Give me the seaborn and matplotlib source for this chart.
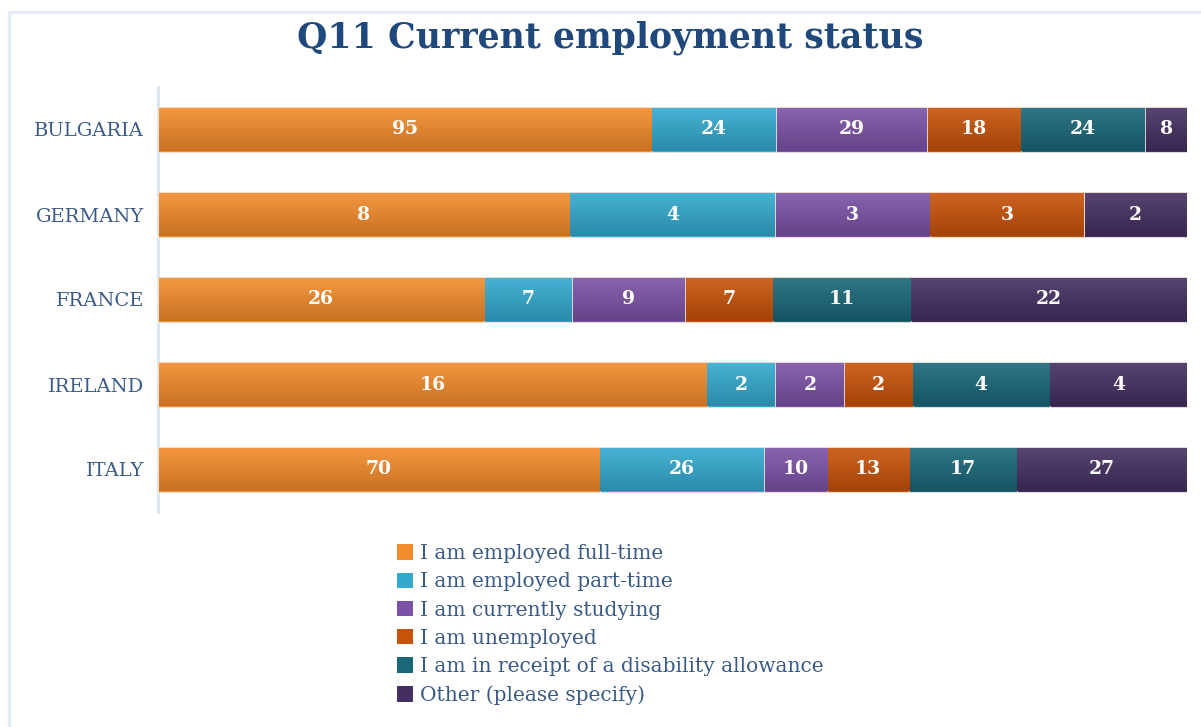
import numpy as np
import pandas as pd
import matplotlib
matplotlib.use("Agg")
import matplotlib.pyplot as plt
from matplotlib.colors import LinearSegmentedColormap, to_rgb
from matplotlib.lines import Line2D
from matplotlib.patches import Patch
import seaborn as sns

# Survey counts per country and answer
countries = ["BULGARIA", "GERMANY", "FRANCE", "IRELAND", "ITALY"]
statuses = [
    "I am employed full-time",
    "I am employed part-time",
    "I am currently studying",
    "I am unemployed",
    "I am in receipt of a disability allowance",
    "Other (please specify)",
]
full_time = [95, 8, 26, 16, 70]
part_time = [24, 4, 7, 2, 26]
studying = [29, 3, 9, 2, 10]
unemployed = [18, 3, 7, 2, 13]
disability = [24, 0, 11, 4, 17]
other = [8, 2, 22, 4, 27]

colors = ["#F38B2A", "#33A9CF", "#7B52A6", "#C85209", "#196779", "#442F61"]
title_color = "#1F497D"
text_color = "#3A5A86"

sns.set_theme(style="white")
plt.rcParams["font.family"] = ["DejaVu Serif"]

counts = pd.DataFrame(
    dict(zip(statuses, [full_time, part_time, studying, unemployed, disability, other])),
    index=countries,
)
shares = counts.div(counts.sum(axis=1), axis=0) * 100
cum = shares.cumsum(axis=1)

fig = plt.figure(figsize=(12.01, 7.27), dpi=100)
ax = fig.add_axes([158 / 1201, 1 - 512 / 727, (1187 - 158) / 1201, (512 - 87) / 727])

bar_h = 0.52
# Stacked bars: draw cumulative totals from the outermost segment inward
for status, col in reversed(list(zip(statuses, colors))):
    df = pd.DataFrame({"country": countries, "value": cum[status].values})
    sns.barplot(data=df, y="country", x="value", color=col, width=bar_h,
                orient="h", ax=ax, saturation=1, edgecolor="#F4E6DA",
                linewidth=0.6, zorder=2)

# Vertical shading on each segment (lighter on top, darker at bottom)
grad = np.linspace(0, 1, 64).reshape(-1, 1)
for j, (status, col) in enumerate(zip(statuses, colors)):
    base = np.array(to_rgb(col))
    light = np.clip(base + (1 - base) * 0.10, 0, 1)
    dark = base * 0.82
    cmap = LinearSegmentedColormap.from_list(f"g{j}", [light, dark])
    for i, c in enumerate(countries):
        x1 = cum[status].iloc[i]
        x0 = x1 - shares[status].iloc[i]
        if shares[status].iloc[i] <= 0:
            continue
        ax.imshow(grad, cmap=cmap, aspect="auto", origin="upper",
                  extent=[x0 + 0.05, x1 - 0.05, i + bar_h / 2 - 0.01, i - bar_h / 2 + 0.01],
                  zorder=3, interpolation="bicubic")
        val = counts[status].iloc[i]
        ax.text((x0 + x1) / 2, i, f"{val}", ha="center", va="center",
                color="white", fontsize=13.5, fontweight="bold", zorder=4)

ax.set_xlim(0, 100)
ax.set_ylim(len(countries) - 0.5, -0.5)
ax.set_xlabel("")
ax.set_ylabel("")
ax.set_xticks([])
ax.tick_params(axis="y", length=0, pad=10, labelsize=14, labelcolor=text_color)
for s in ["top", "right", "bottom"]:
    ax.spines[s].set_visible(False)
ax.spines["left"].set_color("#DCE6F2")
ax.spines["left"].set_linewidth(2)
ax.spines["left"].set_zorder(1)

fig.text(0.508, 1 - 38 / 727, "Q11 Current employment status", ha="center", va="center",
         fontsize=25, fontweight="bold", color=title_color)

handles = [Patch(facecolor=c, edgecolor="none") for c in colors]
fig.legend(handles, statuses, loc="upper left", bbox_to_anchor=(397 / 1201, 1 - 544 / 727),
           frameon=False, fontsize=14.5, labelcolor=text_color, handlelength=0.8,
           handleheight=0.8, handletextpad=0.35, labelspacing=0.46, borderaxespad=0,
           borderpad=0)

# Thin chart-area border along the top and left edges
fig.add_artist(Line2D([9 / 1201, 1], [1 - 12 / 727] * 2, color="#E6ECF6", lw=2.5,
                      transform=fig.transFigure))
fig.add_artist(Line2D([9 / 1201] * 2, [0, 1 - 12 / 727], color="#E6ECF6", lw=2.5,
                      transform=fig.transFigure))

fig.savefig("out.png", dpi=100)
